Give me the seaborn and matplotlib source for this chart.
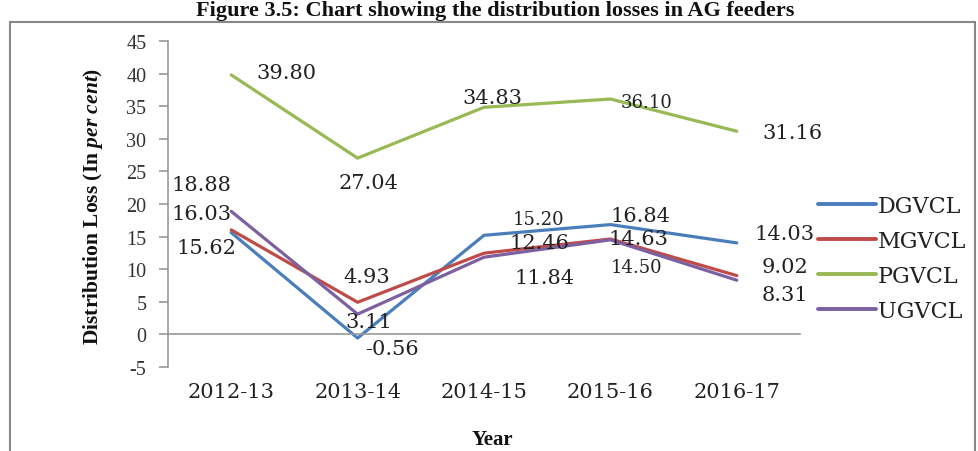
import matplotlib
matplotlib.use("Agg")
import matplotlib.pyplot as plt
import matplotlib.patches as mpatches
from matplotlib.ticker import FixedLocator
import seaborn as sns
import pandas as pd

# ---- data ----
years = ["2012-13", "2013-14", "2014-15", "2015-16", "2016-17"]
dgvcl = [15.62, -0.56, 15.20, 16.84, 14.03]
mgvcl = [16.03, 4.93, 12.46, 14.63, 9.02]
pgvcl = [39.80, 27.04, 34.83, 36.10, 31.16]
ugvcl = [18.88, 3.11, 11.84, 14.50, 8.31]
series_names = ["DGVCL", "MGVCL", "PGVCL", "UGVCL"]
y_ticks = [-5, 0, 5, 10, 15, 20, 25, 30, 35, 40, 45]

values = {"DGVCL": dgvcl, "MGVCL": mgvcl, "PGVCL": pgvcl, "UGVCL": ugvcl}
rows = []
for name in series_names:
    for yr, v in zip(years, values[name]):
        rows.append({"Year": yr, "Loss": v, "Company": name})
df = pd.DataFrame(rows)

palette = {"DGVCL": "#4A7EBB", "MGVCL": "#BE4B48", "PGVCL": "#98B954", "UGVCL": "#7D60A0"}

# label offsets (pixels) and font sizes per point
label_offsets = {
    "DGVCL": [(-25, -15), (34, -10), (55, 16), (30, 9), (48, 9)],
    "MGVCL": [(-30, 16), (9, 26), (55, 11), (28, 1), (48, 9)],
    "PGVCL": [(55, 2), (11, -24), (8, 10), (36, -3), (56, -1)],
    "UGVCL": [(-30, 27), (11, -7), (60, -20), (26, -27), (48, -14)],
}
label_sizes = {
    "DGVCL": [15, 15, 13, 15, 15],
    "MGVCL": [15, 15, 15, 15, 15],
    "PGVCL": [15, 15, 15, 13, 15],
    "UGVCL": [15, 15, 15, 13, 15],
}

sns.set_theme(style="white")
plt.rcParams["font.family"] = ["DejaVu Serif"]
plt.rcParams["mathtext.fontset"] = "custom"
plt.rcParams["mathtext.it"] = "Liberation Serif:bold:italic"
plt.rcParams["mathtext.rm"] = "Liberation Serif:bold"

fig = plt.figure(figsize=(9.79, 4.52), dpi=100)
fig.patch.set_facecolor("white")
ax = fig.add_axes([168 / 979, 1 - 368 / 452, (800 - 168) / 979, (368 - 42) / 452])

sns.lineplot(data=df, x="Year", y="Loss", hue="Company", palette=palette,
             hue_order=series_names, sort=False, linewidth=2.3, ax=ax,
             legend=True)

# data labels
for name in series_names:
    for i, v in enumerate(values[name]):
        dx, dy = label_offsets[name][i]
        ax.annotate(f"{v:.2f}", xy=(i, v), xytext=(dx, dy), textcoords="offset pixels",
                    ha="center", va="center", fontsize=label_sizes[name][i],
                    color="#222222", family="DejaVu Serif", annotation_clip=False)

ax.set_xlim(-0.5, 4.5)
ax.set_ylim(-5, 45)
ax.set_yticks(y_ticks)
ax.set_yticklabels([str(t) for t in y_ticks], family="Liberation Serif", fontsize=14.5, color="#333333")

ax.xaxis.set_major_locator(FixedLocator(range(len(years))))
ax.set_xticklabels(years)
ax.xaxis.set_minor_locator(FixedLocator([-0.5, 0.5, 1.5, 2.5, 3.5, 4.5]))
ax.tick_params(axis="x", which="major", length=0, pad=34, labelsize=15, labelcolor="#222222")
ax.tick_params(axis="x", which="minor", length=8, direction="inout", color="#999999", width=1.2)
ax.tick_params(axis="y", which="major", left=True, length=6.5, direction="out", color="#999999",
               width=1.2, pad=9)

for s in ["top", "right"]:
    ax.spines[s].set_visible(False)
ax.spines["bottom"].set_position(("data", 0))
ax.spines["bottom"].set_color("#999999")
ax.spines["bottom"].set_linewidth(1.2)
ax.spines["left"].set_color("#999999")
ax.spines["left"].set_linewidth(1.2)
ax.grid(False)
ax.set_xlabel("")
ax.set_ylabel("")

# legend
handles, labels = ax.get_legend_handles_labels()
leg = ax.legend(handles, labels, loc="center left", bbox_to_anchor=(818 / 979, 1 - 259.5 / 452),
                bbox_transform=fig.transFigure, frameon=False, fontsize=16,
                handlelength=2.6, handletextpad=0.1, labelspacing=0.58,
                borderpad=0, borderaxespad=0)
for line in leg.get_lines():
    line.set_linewidth(2.8)
for t in leg.get_texts():
    t.set_color("#222222")

# y label
fig.text(93 / 979, 1 - 206 / 452, r"Distribution Loss (In $\mathit{per\ cent}$)",
         rotation=90, ha="center", va="center", fontsize=15.5, family="Liberation Serif",
         fontweight="bold", color="#111111")

# x label
fig.text(492 / 979, 2 / 452, "Year", ha="center", va="bottom", fontsize=15,
         family="Liberation Serif", fontweight="bold", color="#111111")

# title
fig.text(495 / 979, 1 - 1 / 452, "Figure 3.5: Chart showing the distribution losses in AG feeders",
         ha="center", va="top", fontsize=16, family="Liberation Serif",
         fontweight="bold", color="#111111")

# outer frame
frame = mpatches.Rectangle((10 / 979, -0.2), (975 - 10) / 979, 1.2 - 23 / 452,
                           transform=fig.transFigure, fill=False, edgecolor="#888888",
                           linewidth=1.5, clip_on=False)
fig.patches.append(frame)

fig.savefig("out.png", dpi=100)
